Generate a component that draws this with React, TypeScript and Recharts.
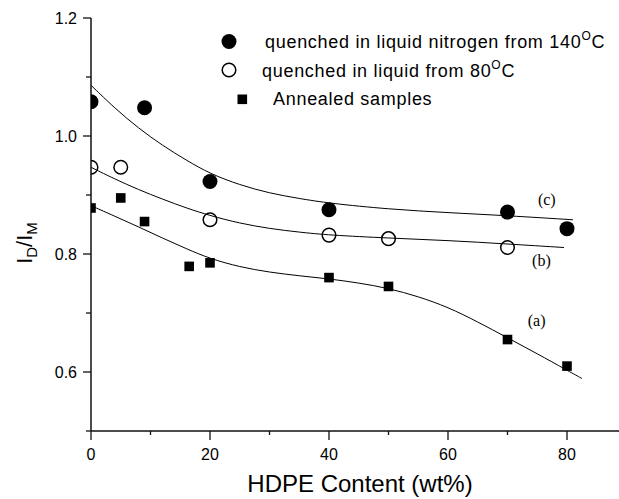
import { ComposedChart, Line, Scatter, XAxis, YAxis, ReferenceDot } from 'recharts';

// measured points
const xQuenchN2 = [0, 9, 20, 40, 70, 80];
const yQuenchN2 = [1.058, 1.048, 0.923, 0.875, 0.871, 0.843];

const xQuench80 = [0, 5, 20, 40, 50, 70];
const yQuench80 = [0.947, 0.947, 0.858, 0.832, 0.826, 0.811];

const xAnnealed = [0, 5, 9, 16.5, 20, 40, 50, 70, 80];
const yAnnealed = [0.878, 0.895, 0.855, 0.779, 0.785, 0.76, 0.745, 0.655, 0.61];

// fitted curves
const xFitC = [0, 4, 8, 12, 16, 20, 25, 30, 35, 40, 50, 60, 70, 81];
const yFitC = [1.086, 1.047, 1.013, 0.984, 0.959, 0.936, 0.917, 0.903, 0.894, 0.886, 0.876, 0.87, 0.865, 0.858];

const xFitB = [0, 4, 8, 12, 16, 20, 25, 30, 35, 40, 50, 60, 70, 79.5];
const yFitB = [0.947, 0.927, 0.909, 0.893, 0.878, 0.865, 0.852, 0.843, 0.837, 0.832, 0.827, 0.823, 0.817, 0.811];

const xFitA = [0, 4, 8, 12, 16, 20, 25, 30, 35, 40, 45, 50, 55, 60, 65, 70, 75, 80, 82.5];
const yFitA = [0.882, 0.864, 0.846, 0.827, 0.809, 0.792, 0.778, 0.769, 0.763, 0.758, 0.751, 0.742, 0.728, 0.71, 0.685, 0.658, 0.631, 0.603, 0.589];

const xTicks = [0, 10, 20, 30, 40, 50, 60, 70, 80];
const yTicks = [0.5, 0.6, 0.7, 0.8, 0.9, 1.0, 1.1, 1.2];

const curveLabels = [
  { x: 76.6, y: 0.892, text: '(c)' },
  { x: 75.7, y: 0.789, text: '(b)' },
  { x: 74.9, y: 0.687, text: '(a)' },
];

const zip = (xs: number[], ys: number[]) => xs.map((x, i) => ({ x, y: ys[i] }));

const SANS = '"Liberation Sans", Arial, sans-serif';
const SERIF = '"Liberation Serif", "Times New Roman", serif';
const INK = '#111';

const BottomTick = ({ x, y, payload }: any) => {
  const major = payload.value % 20 === 0;
  return (
    <g>
      <line x1={x} y1={y} x2={x} y2={y + (major ? 9 : 4)} stroke={INK} strokeWidth={1.3} />
      {major && (
        <text x={x} y={y + 29} textAnchor="middle" fontSize={16} fontFamily={SANS} fill="#000">
          {payload.value}
        </text>
      )}
    </g>
  );
};

const TopTick = ({ x, y, payload }: any) => {
  const major = payload.value % 20 === 0;
  return <line x1={x} y1={y} x2={x} y2={y + (major ? 9 : 4)} stroke={INK} strokeWidth={1.3} />;
};

const LeftTick = ({ x, y, payload }: any) => {
  const k = Math.round(payload.value * 10);
  const major = k % 2 === 0 && k !== 5;
  return (
    <g>
      <line x1={x} y1={y} x2={x - (major ? 8 : 5)} y2={y} stroke={INK} strokeWidth={1.3} />
      {major && (
        <text x={x - 14} y={y + 6} textAnchor="end" fontSize={16} fontFamily={SANS} fill="#000">
          {payload.value.toFixed(1)}
        </text>
      )}
    </g>
  );
};

const FilledDot = ({ cx, cy }: any) => <circle cx={cx} cy={cy} r={7.5} fill="#000" />;
const OpenDot = ({ cx, cy }: any) => <circle cx={cx} cy={cy} r={6.8} fill="none" stroke="#000" strokeWidth={1.5} />;
const SquareDot = ({ cx, cy }: any) => <rect x={cx - 4.8} y={cy - 4.8} width={9.6} height={9.6} fill="#000" />;

export default function App() {
  const axisLine = { stroke: INK, strokeWidth: 1.5 };
  return (
    <div style={{ position: 'absolute', left: 0, top: 0, width: 619, height: 499, overflow: 'hidden', background: '#fff' }}>
      <ComposedChart width={619} height={499} margin={{ top: 18, right: 0, bottom: 0, left: 0 }}>
        <XAxis
          xAxisId={0}
          type="number"
          dataKey="x"
          domain={[0, 88.74]}
          allowDataOverflow
          ticks={xTicks}
          interval={0}
          height={68}
          tickSize={0}
          tickMargin={0}
          tickLine={false}
          axisLine={axisLine}
          tick={<BottomTick />}
        />
        <XAxis
          xAxisId="top"
          orientation="top"
          type="number"
          dataKey="x"
          domain={[0, 88.74]}
          allowDataOverflow
          ticks={xTicks}
          interval={0}
          height={0}
          tickSize={0}
          tickMargin={0}
          tickLine={false}
          axisLine={axisLine}
          tick={<TopTick />}
        />
        <YAxis
          type="number"
          dataKey="y"
          domain={[0.5, 1.2]}
          allowDataOverflow
          ticks={yTicks}
          interval={0}
          width={91}
          tickSize={0}
          tickMargin={0}
          tickLine={false}
          axisLine={axisLine}
          tick={<LeftTick />}
        />
        <Line data={zip(xFitC, yFitC)} dataKey="y" type="basis" stroke="#000" strokeWidth={1} dot={false} isAnimationActive={false} />
        <Line data={zip(xFitB, yFitB)} dataKey="y" type="basis" stroke="#000" strokeWidth={1} dot={false} isAnimationActive={false} />
        <Line data={zip(xFitA, yFitA)} dataKey="y" type="basis" stroke="#000" strokeWidth={1} dot={false} isAnimationActive={false} />
        <Scatter data={zip(xQuenchN2, yQuenchN2)} dataKey="y" shape={<FilledDot />} isAnimationActive={false} />
        <Scatter data={zip(xQuench80, yQuench80)} dataKey="y" shape={<OpenDot />} isAnimationActive={false} />
        <Scatter data={zip(xAnnealed, yAnnealed)} dataKey="y" shape={<SquareDot />} isAnimationActive={false} />
        {curveLabels.map((c) => (
          <ReferenceDot
            key={c.text}
            x={c.x}
            y={c.y}
            r={0}
            stroke="none"
            fill="none"
            label={{ value: c.text, position: 'center', fontSize: 16, fontFamily: SERIF, fill: '#000' }}
          />
        ))}
      </ComposedChart>

      <svg width={619} height={499} style={{ position: 'absolute', left: 0, top: 0, pointerEvents: 'none' }}>
        {/* legend */}
        <circle cx={229} cy={41.5} r={7.5} fill="#000" />
        <text x={265} y={48} fontSize={18} fontFamily={SANS} letterSpacing={0.7} fill="#000">
          quenched in liquid nitrogen from 140
          <tspan fontSize={12} dy={-8}>O</tspan>
          <tspan dy={8}>C</tspan>
        </text>
        <circle cx={229} cy={70} r={6.8} fill="none" stroke="#000" strokeWidth={1.5} />
        <text x={262} y={76.5} fontSize={18} fontFamily={SANS} letterSpacing={0.7} fill="#000">
          quenched in liquid from 80
          <tspan fontSize={12} dy={-8}>O</tspan>
          <tspan dy={8}>C</tspan>
        </text>
        <rect x={237.5} y={94.5} width={9.6} height={9.6} fill="#000" />
        <text x={273} y={105} fontSize={18} fontFamily={SANS} letterSpacing={0.7} fill="#000">
          Annealed samples
        </text>

        {/* axis titles */}
        <text x={360} y={492} textAnchor="middle" fontSize={24} fontFamily={SANS} fill="#000">
          HDPE Content (wt%)
        </text>
        <text x={0} y={0} transform="translate(32, 243) rotate(-90)" textAnchor="middle" fontSize={22} fontFamily={SANS} fill="#000">
          I<tspan fontSize={15} dy={5}>D</tspan>
          <tspan dy={-5}>/I</tspan>
          <tspan fontSize={15} dy={5}>M</tspan>
        </text>
      </svg>
    </div>
  );
}
